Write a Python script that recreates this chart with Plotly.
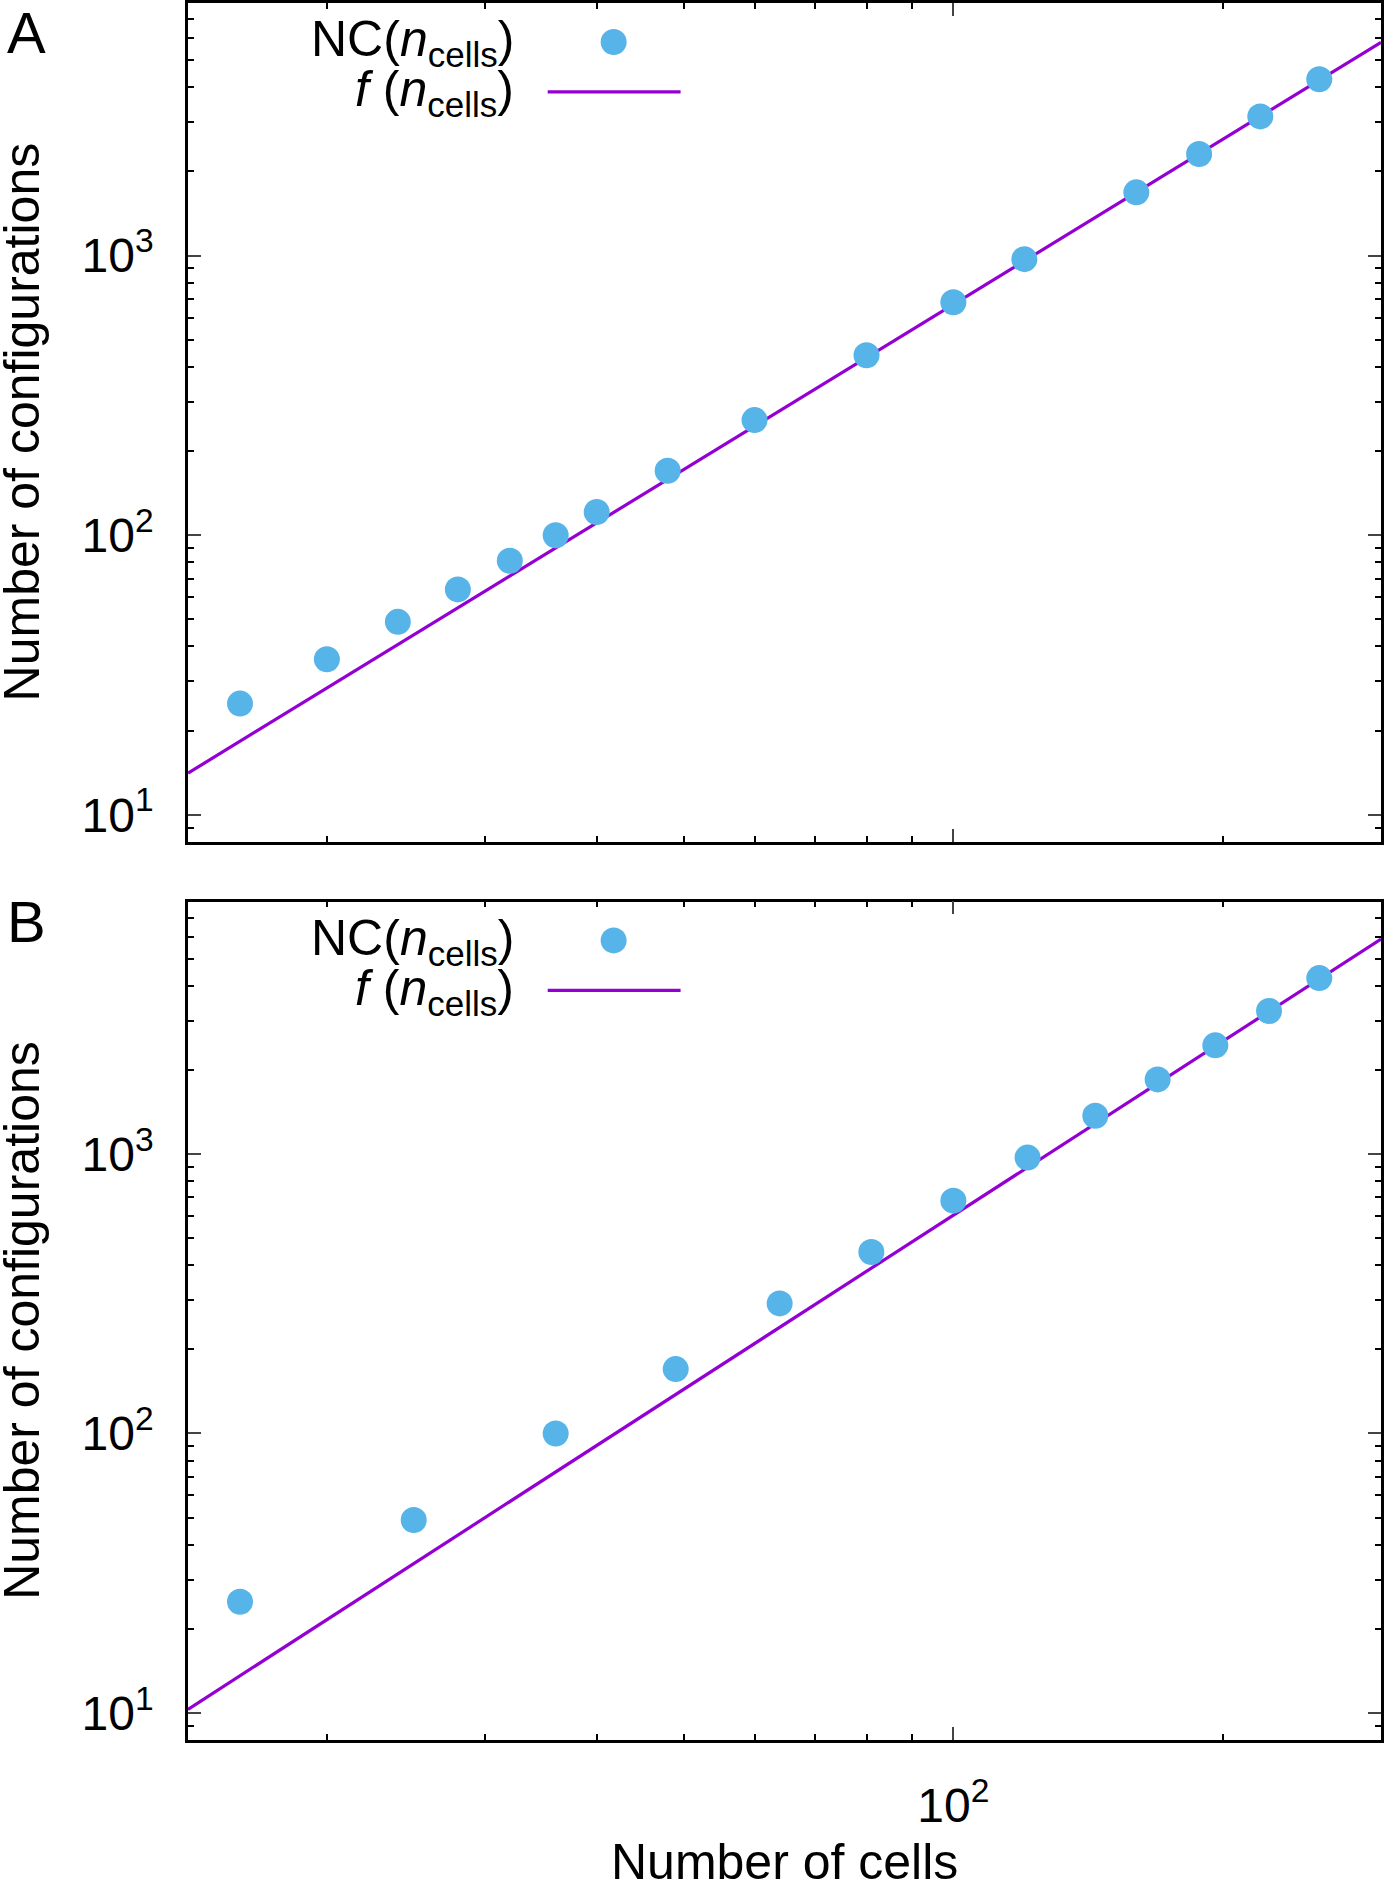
import plotly.graph_objects as go

# panel A: measured configurations
n_cells_A = [16, 20, 24, 28, 32, 36, 40, 48, 60, 80, 100, 120, 160, 188, 220, 256]
nc_A = [25, 36, 49, 64, 81, 100, 121, 170, 258, 440, 681, 971, 1683, 2307, 3145, 4268]

# panel B
n_cells_B = [16, 25, 36, 49, 64, 81, 100, 121, 144, 169, 196, 225, 256]
nc_B = [25, 49, 100, 170, 292, 446, 681, 971, 1371, 1849, 2449, 3251, 4262]

# fitted power law f(n_cells), read at the two ends of the x range
fit_n = [14, 300]
fit_A = [14.1, 5780]
fit_B = [10.3, 5875]

x_range = [14, 300]
y_range = [8, 8000]
y_ticks = [10, 100, 1000]
y_ticktext = ["10<sup>1</sup>", "10<sup>2</sup>", "10<sup>3</sup>"]
y_minor = [8, 9] + [k * 10 for k in range(2, 10)] + [k * 100 for k in range(2, 10)] + [k * 1000 for k in range(2, 9)]
x_minor = [20, 30, 40, 50, 60, 70, 80, 90, 200, 300]

DOT = "#56b4e9"
FIT = "#9400d3"
FONT = "Liberation Sans"

W, H = 1384, 1883
L, R, T, B = 188, 2, 0, 143
PW, PH = W - L - R, H - T - B


def px(x):
    return (x - L) / PW


def py(y):
    return (PH - (y - T)) / PH


fig = go.Figure()
for i, (n, nc, fit) in enumerate([(n_cells_A, nc_A, fit_A), (n_cells_B, nc_B, fit_B)]):
    xa = "x" if i == 0 else "x2"
    ya = "y" if i == 0 else "y2"
    fig.add_trace(go.Scatter(x=fit_n, y=fit, mode="lines", xaxis=xa, yaxis=ya,
                             line=dict(color=FIT, width=3.2), showlegend=False))
    fig.add_trace(go.Scatter(x=n, y=nc, mode="markers", xaxis=xa, yaxis=ya,
                             marker=dict(color=DOT, size=26, line=dict(width=0)),
                             showlegend=False))

axis_common = dict(
    type="log", showgrid=False, zeroline=False,
    showline=True, linecolor="black", linewidth=2.5, mirror="allticks",
    ticks="inside", ticklen=13, tickwidth=1.5, tickcolor="#444",
)
minor_ticks = dict(ticks="inside", ticklen=6, tickcolor="black", tickwidth=1.5)

fig.update_layout(
    width=W, height=H,
    margin=dict(l=L, r=R, t=T, b=B),
    paper_bgcolor="white", plot_bgcolor="white",
    font=dict(family=FONT, size=48, color="black"),
    xaxis=dict(axis_common, range=[1.1461, 2.4771], anchor="y", showticklabels=False,
               tickvals=[100], minor=dict(minor_ticks, tickvals=x_minor)),
    yaxis=dict(axis_common, range=[0.9031, 3.9031], domain=[py(840.4), 1.0], anchor="x",
               tickvals=y_ticks, ticktext=y_ticktext, ticklabelstandoff=22,
               minor=dict(minor_ticks, tickvals=y_minor)),
    xaxis2=dict(axis_common, range=[1.1461, 2.4771], anchor="y2",
                tickvals=[100], ticktext=["10<sup>2</sup>"], ticklabelstandoff=22,
                minor=dict(minor_ticks, tickvals=x_minor)),
    yaxis2=dict(axis_common, range=[0.9031, 3.9031], domain=[0.0, py(900.2)], anchor="x2",
                tickvals=y_ticks, ticktext=y_ticktext, ticklabelstandoff=22,
                minor=dict(minor_ticks, tickvals=y_minor)),
)

ann = []
shapes = []
for off, letter, yc in [(0, "A", 30), (900, "B", 920)]:
    ann.append(dict(text=letter, x=px(26), y=py(yc), xref="paper", yref="paper",
                    showarrow=False, xanchor="center", yanchor="middle", font=dict(size=58)))
    ann.append(dict(text="NC(<i>n</i><sub>cells</sub>)", x=px(516), y=py(40 + off),
                    xref="paper", yref="paper", showarrow=False,
                    xanchor="right", yanchor="middle", font=dict(size=50)))
    ann.append(dict(text="<i>f</i> (<i>n</i><sub>cells</sub>)", x=px(516), y=py(90 + off),
                    xref="paper", yref="paper", showarrow=False,
                    xanchor="right", yanchor="middle", font=dict(size=50)))
    shapes.append(dict(type="circle", xref="paper", yref="paper",
                       xsizemode="pixel", ysizemode="pixel",
                       xanchor=px(614), yanchor=py(39 + off),
                       x0=-13, x1=13, y0=-13, y1=13,
                       fillcolor=DOT, line=dict(width=0)))
    shapes.append(dict(type="line", xref="paper", yref="paper",
                       x0=px(548), x1=px(681), y0=py(89 + off), y1=py(89 + off),
                       line=dict(color=FIT, width=3.2)))

for yc in [420, 1320]:
    ann.append(dict(text="Number of configurations", x=px(22), y=py(yc),
                    xref="paper", yref="paper", showarrow=False, textangle=-90,
                    xanchor="center", yanchor="middle", font=dict(size=50)))
ann.append(dict(text="Number of cells", x=0.5, y=py(1862), xref="paper", yref="paper",
                showarrow=False, xanchor="center", yanchor="middle", font=dict(size=50)))

fig.update_layout(annotations=ann, shapes=shapes)

fig.write_html("out.html", config={"displayModeBar": False},
               post_script="document.body.style.margin='0';")
